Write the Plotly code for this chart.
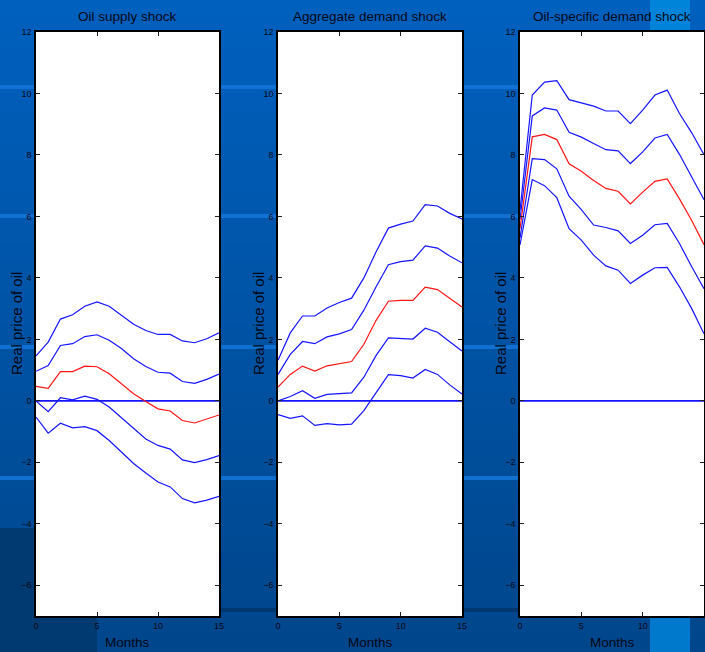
import plotly.graph_objects as go

W, H = 705, 652

months = list(range(16))

titles = ["Oil supply shock", "Aggregate demand shock", "Oil-specific demand shock"]
y_label = "Real price of oil"
x_label = "Months"
y_ticks = [-6, -4, -2, 0, 2, 4, 6, 8, 10, 12]
x_ticks = [0, 5, 10, 15]

# Oil supply shock
supply_upper2 = [1.46, 1.91, 2.66, 2.80, 3.08, 3.22, 3.08, 2.78, 2.49, 2.29, 2.16, 2.16, 1.95, 1.89, 2.02, 2.21]
supply_upper1 = [0.96, 1.15, 1.80, 1.86, 2.09, 2.15, 1.97, 1.70, 1.37, 1.12, 0.93, 0.90, 0.63, 0.57, 0.70, 0.87]
supply_median = [0.47, 0.41, 0.95, 0.95, 1.13, 1.11, 0.88, 0.55, 0.23, -0.02, -0.26, -0.33, -0.64, -0.72, -0.60, -0.46]
supply_lower1 = [0.00, -0.35, 0.10, 0.03, 0.15, 0.05, -0.20, -0.55, -0.91, -1.24, -1.45, -1.57, -1.92, -2.01, -1.91, -1.78]
supply_lower2 = [-0.53, -1.05, -0.73, -0.88, -0.84, -0.97, -1.29, -1.66, -2.04, -2.35, -2.64, -2.80, -3.18, -3.32, -3.23, -3.11]

# Aggregate demand shock
agg_upper2 = [1.32, 2.21, 2.76, 2.76, 3.02, 3.20, 3.34, 4.00, 4.85, 5.62, 5.75, 5.85, 6.38, 6.34, 6.10, 5.92]
agg_upper1 = [0.86, 1.51, 1.93, 1.86, 2.08, 2.18, 2.32, 2.95, 3.71, 4.43, 4.53, 4.58, 5.04, 4.97, 4.71, 4.49]
agg_median = [0.45, 0.86, 1.13, 0.97, 1.14, 1.21, 1.28, 1.84, 2.62, 3.24, 3.27, 3.27, 3.70, 3.62, 3.33, 3.05]
agg_lower1 = [0.00, 0.14, 0.33, 0.08, 0.21, 0.23, 0.26, 0.77, 1.48, 2.05, 2.04, 2.01, 2.36, 2.23, 1.92, 1.62]
agg_lower2 = [-0.45, -0.57, -0.49, -0.80, -0.74, -0.78, -0.76, -0.32, 0.27, 0.85, 0.82, 0.74, 1.02, 0.86, 0.52, 0.22]

# Oil-specific demand shock
spec_upper2 = [6.2, 9.95, 10.37, 10.42, 9.80, 9.70, 9.59, 9.43, 9.43, 9.02, 9.46, 9.95, 10.11, 9.35, 8.72, 8.01]
spec_upper1 = [5.9, 9.27, 9.53, 9.46, 8.74, 8.58, 8.37, 8.17, 8.13, 7.72, 8.10, 8.55, 8.67, 8.02, 7.28, 6.54]
spec_median = [5.6, 8.59, 8.67, 8.50, 7.71, 7.47, 7.17, 6.91, 6.82, 6.41, 6.79, 7.14, 7.22, 6.57, 5.87, 5.08]
spec_lower1 = [5.3, 7.88, 7.85, 7.55, 6.66, 6.22, 5.72, 5.64, 5.53, 5.12, 5.39, 5.73, 5.77, 5.12, 4.36, 3.65]
spec_lower2 = [5.07, 7.20, 7.00, 6.61, 5.60, 5.23, 4.74, 4.39, 4.25, 3.82, 4.09, 4.33, 4.34, 3.71, 3.00, 2.18]

zero_line = [0.0] * 16

panels = [
    (supply_upper2, supply_upper1, supply_median, supply_lower1, supply_lower2),
    (agg_upper2, agg_upper1, agg_median, agg_lower1, agg_lower2),
    (spec_upper2, spec_upper1, spec_median, spec_lower1, spec_lower2),
]

BLUE = "#1414ff"
RED = "#ff1414"
TXT = "#000814"
NARROW = "Liberation Sans Narrow, Arial Narrow, Liberation Sans, Arial"
REG = "Liberation Sans, Arial, sans-serif"

# pixel geometry of panels
px_left = [36, 278, 520]
px_right = [219, 462, 704]
py_top, py_bot = 32, 616

fig = go.Figure()
shapes = []

for i, series in enumerate(panels):
    ax = "" if i == 0 else str(i + 1)
    xref, yref = "x" + ax, "y" + ax
    fig.add_trace(go.Scatter(x=months, y=zero_line, mode="lines",
                             line=dict(color=BLUE, width=1.6), xaxis=xref, yaxis=yref,
                             showlegend=False, hoverinfo="skip"))
    for j, s in enumerate(series):
        fig.add_trace(go.Scatter(x=months, y=s, mode="lines",
                                 line=dict(color=RED if j == 2 else BLUE, width=1.2),
                                 xaxis=xref, yaxis=yref, showlegend=False))
    xd = [px_left[i] / W, px_right[i] / W]
    yd = [(H - py_bot) / H, (H - py_top) / H]
    common = dict(showline=True, linecolor="black", linewidth=1.6, mirror="ticks",
                  ticks="inside", ticklen=4, tickwidth=1, tickcolor="#222",
                  showgrid=False, zeroline=False, automargin=False,
                  tickfont=dict(family=NARROW, size=9, color=TXT), fixedrange=True)
    fig.layout["xaxis" + ax] = dict(domain=xd, range=[0, 15], tickvals=x_ticks,
                                    anchor="y" + ax, **common)
    fig.layout["yaxis" + ax] = dict(domain=yd, range=[-7, 12], tickvals=y_ticks,
                                    anchor="x" + ax, ticklabelstandoff=1, **common)
    # white plotting area (covers background decoration)
    shapes.append(dict(type="rect", xref="x" + ax + " domain", yref="y" + ax + " domain",
                       x0=0, x1=1, y0=0, y1=1, fillcolor="white",
                       line=dict(width=0), layer="below"))
    cx = (px_left[i] + px_right[i]) / 2 / W
    fig.add_annotation(text=titles[i], x=cx, y=(H - 17) / H, xref="paper", yref="paper",
                       showarrow=False, font=dict(family=NARROW, size=13.5, color=TXT),
                       xanchor="center", yanchor="middle")
    fig.add_annotation(text=x_label, x=cx, y=(H - 642) / H, xref="paper", yref="paper",
                       showarrow=False, font=dict(family=NARROW, size=13.5, color=TXT),
                       xanchor="center", yanchor="middle")
    fig.add_annotation(text=y_label, x=(px_left[i] - 20) / W, y=(H - 324) / H,
                       xref="paper", yref="paper", textangle=-90, showarrow=False,
                       font=dict(family=REG, size=15, color=TXT),
                       xanchor="center", yanchor="middle")

# slide-like background decoration (paper coordinates)
bg = []
n = 40
top_c = (0, 96, 190)
bot_c = (0, 70, 140)
for k in range(n):
    t = k / (n - 1)
    c = tuple(int(round(top_c[m] + (bot_c[m] - top_c[m]) * t)) for m in range(3))
    y1 = 1 - k / n + 0.002
    y0 = 1 - (k + 1) / n
    bg.append(dict(type="rect", xref="paper", yref="paper", x0=0, x1=1, y0=max(y0, 0), y1=min(y1, 1),
                   fillcolor="rgb(%d,%d,%d)" % c, line=dict(width=0), layer="below"))
for ys in [87, 216, 347, 478]:
    bg.append(dict(type="rect", xref="paper", yref="paper", x0=0, x1=1,
                   y0=(H - ys - 2) / H, y1=(H - ys + 2) / H,
                   fillcolor="rgba(20,120,220,0.8)", line=dict(width=0), layer="below"))
bg.append(dict(type="rect", xref="paper", yref="paper", x0=219 / W, x1=1,
               y0=(H - 612) / H, y1=(H - 608) / H,
               fillcolor="rgb(0,55,110)", line=dict(width=0), layer="below"))
bg.append(dict(type="rect", xref="paper", yref="paper", x0=0, x1=97 / W,
               y0=0, y1=(H - 528) / H,
               fillcolor="rgb(0,58,112)", line=dict(width=0), layer="below"))
bg.append(dict(type="rect", xref="paper", yref="paper", x0=650 / W, x1=690 / W,
               y0=(H - 31) / H, y1=1,
               fillcolor="rgb(0,132,218)", line=dict(width=0), layer="below"))
bg.append(dict(type="rect", xref="paper", yref="paper", x0=650 / W, x1=690 / W,
               y0=0, y1=(H - 617) / H,
               fillcolor="rgb(0,120,204)", line=dict(width=0), layer="below"))

fig.update_layout(width=W, height=H,
                  margin=dict(l=0, r=0, t=0, b=0, pad=0, autoexpand=False),
                  paper_bgcolor="rgb(0,84,168)", plot_bgcolor="white",
                  shapes=bg + shapes, showlegend=False)

fig.write_html("out.html", config={"displayModeBar": False},
               post_script="document.body.style.margin='0';document.body.style.padding='0';"
                           "document.body.style.overflow='hidden';")
